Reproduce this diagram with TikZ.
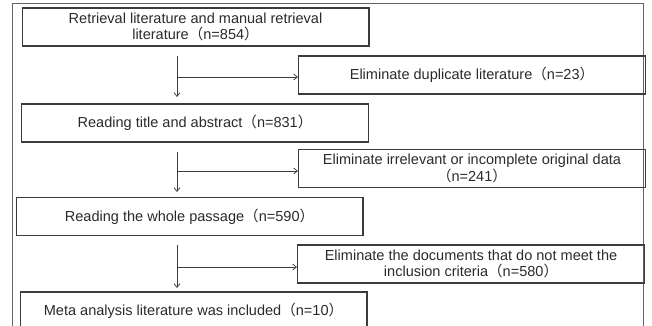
\documentclass[tikz,border=0pt]{standalone}
\usepackage{fontspec}
\setmainfont{Liberation Sans}
\newfontfamily\cjk{Noto Sans CJK SC}
\usepackage{tikz}
\usetikzlibrary{positioning,arrows.meta,calc}
\newcommand{\lp}{{\cjk （}}
\newcommand{\rp}{{\cjk ）}}
\definecolor{boxline}{HTML}{3C3C3C}
\definecolor{boxtext}{HTML}{2A2A2A}

\begin{document}
\begin{tikzpicture}[
x=0.75pt, y=-0.75pt,
    every node/.style={
        rectangle,
        draw=boxline,
        line width=1pt,
        text=boxtext,
        align=center,
        font=\fontsize{10.9}{12.3}\selectfont,
        inner sep=0pt
    },
    stage/.style={minimum width=260pt, minimum height=28.5pt},
    flow/.style={draw=boxline, line width=0.55pt, -{Straight Barb[length=1mm,width=1.6mm]}}
]
\useasboundingbox (0,0) rectangle (652,325);
\draw[draw=boxline!80, line width=0.7pt] (12,3) rectangle (643,340);

\node[stage] (search)   at (195.5,27)  {Retrieval literature and manual retrieval\\literature\lp n=854\rp};
\node[stage] (dup)      at (472,75)    {Eliminate duplicate literature\lp n=23\rp};
\node[stage] (title)    at (195,123)   {Reading title and abstract\lp n=831\rp};
\node[stage] (irrel)    at (472,168.5) {Eliminate irrelevant or incomplete original data\\\lp n=241\rp};
\node[stage] (passage)  at (189.5,216.5) {Reading the whole passage\lp n=590\rp};
\node[stage] (criteria) at (471,264)   {Eliminate the documents that do not meet the\\inclusion criteria\lp n=580\rp};
\node[stage] (meta)     at (193.5,311) {Meta analysis literature was included\lp n=10\rp};

% The three downward steps
\coordinate (s1) at (177,56);  \coordinate (j1) at (177,77);  \coordinate (e1) at (177,97);
\coordinate (s2) at (177,152); \coordinate (j2) at (177,171); \coordinate (e2) at (177,192);
\coordinate (s3) at (177,245); \coordinate (j3) at (177,267); \coordinate (e3) at (177,288);
\draw[flow] (s1) -- (e1);
\draw[flow] (s2) -- (e2);
\draw[flow] (s3) -- (e3);

% The branches to the eliminated records
\draw[flow] (j1) -- (j1 -| dup.west);
\draw[flow] (j2) -- (j2 -| irrel.west);
\draw[flow] (j3) -- (j3 -| criteria.west);
\end{tikzpicture}
\end{document}
